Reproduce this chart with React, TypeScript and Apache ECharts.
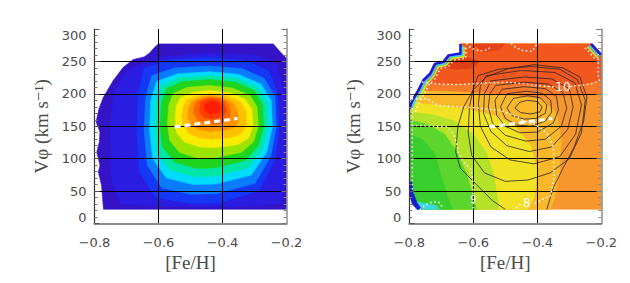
import React, { useEffect, useRef } from "react";
import * as echarts from "echarts";

// ---------- axes ----------
const FEH_MIN = -0.8;
const FEH_MAX = -0.2;
const FEH_STEP = 0.2;
const V_MIN = 0;
const V_MAX = 300;
const V_STEP = 50;

// ---------- left panel: filled density contours, outer -> inner, points [Fe/H, Vphi] ----------
const DENS_L0 = [[-0.6,277],[-0.241,277],[-0.222,266],[-0.2,255],[-0.2,22],[-0.772,22],[-0.778,59],[-0.788,79],[-0.783,90],[-0.793,110],[-0.785,126],[-0.783,141],[-0.795,157],[-0.786,177],[-0.772,195],[-0.741,221],[-0.71,241],[-0.679,253],[-0.645,257],[-0.628,263],[-0.612,272]];
const DENS_L1 = [[-0.7,236],[-0.6,256],[-0.45,263],[-0.3,260],[-0.23,246],[-0.206,200],[-0.206,60],[-0.216,30],[-0.35,26],[-0.55,26],[-0.72,30],[-0.748,70],[-0.752,150],[-0.738,205]];
const DENS_L2 = [[-0.645,240],[-0.56,253],[-0.44,256],[-0.33,251],[-0.255,236],[-0.228,200],[-0.222,150],[-0.235,100],[-0.285,50],[-0.41,32],[-0.5,31],[-0.61,40],[-0.66,80],[-0.668,140],[-0.664,200]];
const DENS_L3 = [[-0.622,228],[-0.55,240],[-0.44,243],[-0.34,239],[-0.27,224],[-0.236,195],[-0.232,150],[-0.248,105],[-0.298,62],[-0.42,46],[-0.5,45],[-0.59,55],[-0.635,90],[-0.645,145],[-0.64,195]];
const DENS_L4 = [[-0.606,219],[-0.54,231],[-0.44,234],[-0.35,230],[-0.28,215],[-0.248,190],[-0.244,150],[-0.262,110],[-0.31,75],[-0.42,61],[-0.49,60],[-0.575,70],[-0.618,100],[-0.628,145],[-0.624,190]];
const DENS_L5 = [[-0.59,213],[-0.535,225],[-0.44,228],[-0.355,224],[-0.29,210],[-0.26,186],[-0.257,150],[-0.275,115],[-0.32,86],[-0.42,73],[-0.485,72],[-0.565,82],[-0.603,108],[-0.612,148],[-0.608,188]];
const DENS_L6 = [[-0.575,208],[-0.525,219],[-0.44,222],[-0.36,218],[-0.3,205],[-0.275,183],[-0.272,150],[-0.288,120],[-0.33,97],[-0.425,86],[-0.48,85],[-0.55,95],[-0.587,118],[-0.595,150],[-0.59,186]];
const DENS_L7 = [[-0.555,200],[-0.51,210],[-0.44,213],[-0.37,209],[-0.315,198],[-0.292,180],[-0.288,150],[-0.303,126],[-0.34,110],[-0.425,101],[-0.475,100],[-0.535,110],[-0.565,128],[-0.572,152],[-0.568,182]];
const DENS_L8 = [[-0.532,194],[-0.495,202],[-0.44,205],[-0.38,202],[-0.33,192],[-0.308,176],[-0.305,150],[-0.318,132],[-0.35,122],[-0.425,117],[-0.47,118],[-0.52,126],[-0.543,140],[-0.548,158],[-0.545,180]];
const DENS_L9 = [[-0.512,190],[-0.48,197],[-0.44,200],[-0.39,197],[-0.345,188],[-0.327,173],[-0.325,152],[-0.338,140],[-0.37,133],[-0.43,130],[-0.47,132],[-0.505,139],[-0.522,150],[-0.527,165],[-0.522,180]];
const DENS_L10 = [[-0.495,188],[-0.47,194],[-0.44,197],[-0.4,194],[-0.365,185],[-0.352,172],[-0.35,156],[-0.362,148],[-0.39,144],[-0.44,142],[-0.475,145],[-0.5,153],[-0.508,166],[-0.505,180]];
const DENS_L11 = [[-0.48,188],[-0.455,193],[-0.43,195],[-0.4,192],[-0.38,183],[-0.375,168],[-0.385,158],[-0.415,153],[-0.45,154],[-0.478,160],[-0.49,170],[-0.489,180]];
const DENS_L12 = [[-0.468,187],[-0.445,192],[-0.415,191],[-0.395,184],[-0.388,174],[-0.398,165],[-0.425,161],[-0.455,163],[-0.472,172]];
const DENS_L13 = [[-0.455,184],[-0.435,189],[-0.412,186],[-0.405,177],[-0.415,170],[-0.44,169],[-0.458,176]];
const DENS_LEVELS = [DENS_L0, DENS_L1, DENS_L2, DENS_L3, DENS_L4, DENS_L5, DENS_L6, DENS_L7, DENS_L8, DENS_L9, DENS_L10, DENS_L11, DENS_L12, DENS_L13];
const DENS_COLORS = ["#3414c6", "#2a1ce0", "#1438f5", "#0a7cff", "#00dcff", "#00e6a6", "#1ed41e", "#9ce400", "#f8ec00", "#ffc000", "#ff9200", "#ff6600", "#ff3c00", "#ff1c00"];

// mean trend (white dashed)
const TREND = [[-0.55,149],[-0.45,155.5],[-0.353,162]];

// ---------- right panel: colour field regions ----------
const AGE_BASE = [[-0.64,277],[-0.232,277],[-0.2,260],[-0.2,22],[-0.775,22],[-0.79,30],[-0.8,46],[-0.8,177],[-0.79,190],[-0.772,205],[-0.756,221],[-0.735,231],[-0.72,246],[-0.694,249],[-0.678,259],[-0.64,262]];
const AGE_TOP = [[-0.64,277],[-0.232,277],[-0.2,260],[-0.2,200],[-0.3,197],[-0.45,197],[-0.6,200],[-0.772,205],[-0.756,221],[-0.735,231],[-0.72,246],[-0.694,249],[-0.678,259],[-0.64,262]];
const AGE_RED = [[-0.64,277],[-0.232,277],[-0.2,260],[-0.2,222],[-0.26,214],[-0.35,212],[-0.45,215],[-0.55,219],[-0.65,216],[-0.72,216],[-0.756,221],[-0.735,231],[-0.72,246],[-0.694,249],[-0.678,259],[-0.64,262]];
const AGE_SPOT1 = [[-0.7,243],[-0.66,238],[-0.6,240],[-0.58,250],[-0.62,257],[-0.68,252]];
const AGE_SPOT2 = [[-0.6,277],[-0.5,277],[-0.52,268],[-0.57,265]];
const AGE_YO = [[-0.775,205],[-0.65,203],[-0.55,200],[-0.45,196],[-0.38,190],[-0.34,170],[-0.325,130],[-0.33,80],[-0.345,40],[-0.36,22],[-0.775,22],[-0.79,30],[-0.8,46],[-0.8,177],[-0.79,190]];
const AGE_Y = [[-0.79,186],[-0.72,183],[-0.62,176],[-0.53,166],[-0.47,150],[-0.42,120],[-0.4,80],[-0.41,40],[-0.43,22],[-0.775,22],[-0.79,30],[-0.8,46],[-0.8,177]];
const AGE_YG = [[-0.8,172],[-0.73,168],[-0.66,158],[-0.6,138],[-0.56,110],[-0.535,75],[-0.525,40],[-0.52,22],[-0.775,22],[-0.79,30],[-0.8,46]];
const AGE_G = [[-0.8,160],[-0.74,152],[-0.69,138],[-0.65,110],[-0.62,75],[-0.6,40],[-0.59,22],[-0.775,22],[-0.79,30],[-0.8,46]];
const AGE_G2 = [[-0.8,138],[-0.76,130],[-0.72,108],[-0.7,72],[-0.68,40],[-0.665,22],[-0.775,22],[-0.79,30],[-0.8,46]];
const AGE_CYAN = [[-0.78,22],[-0.705,22],[-0.72,28],[-0.75,31],[-0.775,33]];
const AGE_REGIONS = [AGE_BASE, AGE_TOP, AGE_RED, AGE_SPOT1, AGE_SPOT2, AGE_YO, AGE_Y, AGE_YG, AGE_G, AGE_G2, AGE_CYAN];
const AGE_COLORS = ["#f6962c", "#f67a2a", "#f2581e", "#e23e16", "#e44218", "#f8b82a", "#f2e224", "#b4e22a", "#5cd62c", "#38ce2e", "#3ed6e0"];

// data-region edges
const STAIR_EDGE = [[-0.64,277],[-0.64,262],[-0.678,259],[-0.694,249],[-0.72,246],[-0.735,231],[-0.756,221],[-0.772,205],[-0.79,190],[-0.8,177]];
const RIGHT_EDGE = [[-0.232,277],[-0.2,260]];
const RIGHT_SIDE = [[-0.2,260],[-0.2,225]];
const LEFT_SIDE = [[-0.8,177],[-0.8,50]];
const CORNER_BLUE = [[-0.8,64],[-0.8,46],[-0.79,30],[-0.775,22],[-0.762,22],[-0.776,32],[-0.788,48],[-0.792,64]];

// black density iso-lines
const ISO_1 = [[-0.455,187],[-0.43,190],[-0.4,188],[-0.385,180],[-0.392,172],[-0.42,169],[-0.452,171],[-0.47,178]];
const ISO_2 = [[-0.475,193],[-0.43,197],[-0.39,194],[-0.37,183],[-0.375,170],[-0.405,162],[-0.44,161],[-0.478,166],[-0.495,178]];
const ISO_3 = [[-0.495,200],[-0.435,204],[-0.385,201],[-0.358,190],[-0.355,172],[-0.375,158],[-0.42,150],[-0.465,152],[-0.5,162],[-0.515,180]];
const ISO_4 = [[-0.51,207],[-0.44,211],[-0.375,208],[-0.34,196],[-0.334,175],[-0.35,155],[-0.4,141],[-0.455,140],[-0.5,150],[-0.527,167],[-0.532,190]];
const ISO_5 = [[-0.53,213],[-0.44,218],[-0.365,215],[-0.32,202],[-0.308,178],[-0.325,150],[-0.375,130],[-0.435,127],[-0.5,136],[-0.54,155],[-0.553,180],[-0.548,200]];
const ISO_6 = [[-0.545,220],[-0.44,226],[-0.355,223],[-0.3,208],[-0.288,180],[-0.305,145],[-0.355,118],[-0.425,111],[-0.495,120],[-0.545,142],[-0.568,170],[-0.565,200]];
const ISO_7 = [[-0.56,228],[-0.45,236],[-0.345,233],[-0.283,217],[-0.262,183],[-0.28,138],[-0.33,103],[-0.41,92],[-0.485,98],[-0.545,118],[-0.578,150],[-0.584,185],[-0.578,212]];
const ISO_8 = [[-0.585,228],[-0.52,238],[-0.42,242],[-0.33,238],[-0.275,222],[-0.25,190],[-0.262,140],[-0.3,100],[-0.36,78],[-0.43,67],[-0.5,65],[-0.565,78],[-0.605,105],[-0.616,140],[-0.612,180],[-0.6,208]];
const ISO_9 = [[-0.5,22],[-0.54,35],[-0.59,60],[-0.64,85],[-0.655,110],[-0.648,150],[-0.63,180],[-0.6,206],[-0.56,226],[-0.49,239],[-0.41,245],[-0.32,240],[-0.267,226],[-0.245,195],[-0.255,158],[-0.285,118],[-0.32,85],[-0.35,55],[-0.37,22]];
const ISO_CLOSED = [ISO_1, ISO_2, ISO_3, ISO_4, ISO_5, ISO_6, ISO_7, ISO_8];

// white dotted contours of the colour field
const DOT_10A = [[-0.758,218],[-0.714,215.5],[-0.65,214],[-0.6,215.5],[-0.55,217],[-0.496,218],[-0.45,216],[-0.402,213],[-0.345,210.5]];
const DOT_10B = [[-0.295,211.5],[-0.267,213],[-0.225,216],[-0.2,223]];
const DOT_8 = [[-0.79,192.6],[-0.746,192.6],[-0.709,182],[-0.65,180],[-0.6,178.6],[-0.517,174.5],[-0.475,167],[-0.444,159],[-0.402,151.4],[-0.381,143.7],[-0.369,138.5],[-0.355,123],[-0.35,118],[-0.348,97],[-0.348,72],[-0.358,43],[-0.41,31]];
const DOT_8B = [[-0.455,29],[-0.47,22]];
const DOT_9 = [[-0.79,151.4],[-0.725,150],[-0.683,149],[-0.662,138.5],[-0.65,120],[-0.647,107.7],[-0.626,92.3],[-0.605,82],[-0.6,56],[-0.6,43]];
const DOT_9B = [[-0.6,31],[-0.6,23]];
const DOT_LOW = [[-0.765,22],[-0.751,28],[-0.73,33],[-0.709,33.5],[-0.7,28],[-0.695,22]];
const DOT_TOP_A = [[-0.62,277],[-0.605,270],[-0.579,266],[-0.553,268.5],[-0.543,275]];
const DOT_TOP_B = [[-0.48,277],[-0.475,274],[-0.447,267],[-0.416,265.6],[-0.405,274],[-0.4,277]];
const DOT_LINES = [DOT_10A, DOT_10B, DOT_8, DOT_8B, DOT_9, DOT_9B, DOT_LOW, DOT_TOP_A, DOT_TOP_B];

// contour labels
const LABEL_TEXT = ["10", "8", "9"];
const LABEL_AT = [[-0.32, 210.5], [-0.433, 31], [-0.6, 37]];

// ---------- rendering helpers ----------
type Shape = {
  pts?: number[][];
  fill?: string;
  stroke?: string;
  width?: number;
  dash?: number[];
  cap?: string;
  closed?: boolean;
  dx?: number;
  dy?: number;
  text?: string;
  at?: number[];
  size?: number;
};

const DOTS = { stroke: "#ffffff", width: 1.7, dash: [0.01, 4.2], cap: "round" };

function renderShapes(shapes: Shape[]) {
  return (params: any, api: any) => {
    const s = shapes[params.dataIndex];
    if (s.text) {
      const c = api.coord(s.at);
      return {
        type: "text",
        x: c[0],
        y: c[1],
        style: {
          text: s.text,
          fill: "#f4f4f4",
          fontSize: s.size || 12,
          fontFamily: "DejaVu Sans",
          align: "center",
          verticalAlign: "middle",
        },
      };
    }
    const points = (s.pts || []).map((p) => api.coord(p));
    if (s.fill) {
      return {
        type: "polygon",
        shape: { points },
        style: { fill: s.fill, stroke: s.fill, lineWidth: 0.6 },
      };
    }
    return {
      type: s.closed ? "polygon" : "polyline",
      x: s.dx || 0,
      y: s.dy || 0,
      shape: { points },
      style: {
        fill: "none",
        stroke: s.stroke,
        lineWidth: s.width || 1,
        lineDash: s.dash || null,
        lineCap: s.cap || "butt",
        lineJoin: "round",
      },
    };
  };
}

function customSeries(shapes: Shape[], axisIdx: number, z: number) {
  return {
    type: "custom",
    coordinateSystem: "cartesian2d",
    xAxisIndex: axisIdx,
    yAxisIndex: axisIdx,
    silent: true,
    clip: true,
    z,
    renderItem: renderShapes(shapes),
    data: shapes.map((s) => {
      const p = s.text ? (s.at as number[]) : (s.pts as number[][])[0];
      return [p[0], p[1]];
    }),
  };
}

const fmtFeH = (v: number) => (v < 0 ? "\u2212" : "") + Math.abs(v).toFixed(1);
const LABEL_FONT = { color: "#4a4a4a", fontFamily: "DejaVu Sans", fontSize: 13 };
const TITLE_FONT = { color: "#4a4a4a", fontFamily: "Liberation Serif, DejaVu Serif, serif", fontSize: 19 };

function xAxes(gridIndex: number) {
  return [
    {
      type: "value",
      gridIndex,
      position: "bottom",
      min: FEH_MIN,
      max: FEH_MAX,
      interval: FEH_STEP,
      z: 5,
      name: "[Fe/H]",
      nameLocation: "middle",
      nameGap: 29,
      nameTextStyle: TITLE_FONT,
      axisLine: { show: true, lineStyle: { color: "#8c8c8c", width: 2 } },
      axisTick: { show: false },
      axisLabel: { ...LABEL_FONT, margin: 12, formatter: fmtFeH },
      splitLine: { show: true, showMinLine: false, showMaxLine: false, lineStyle: { color: "#000", width: 1 } },
    },
    {
      type: "value",
      gridIndex,
      position: "top",
      min: FEH_MIN,
      max: FEH_MAX,
      interval: FEH_STEP,
      z: 5,
      axisLine: { show: true, lineStyle: { color: "#8c8c8c", width: 1.5 } },
      axisTick: { show: false },
      axisLabel: { show: false },
      splitLine: { show: false },
    },
  ];
}

function yAxes(gridIndex: number, nameGap: number) {
  return [
    {
      type: "value",
      gridIndex,
      position: "left",
      min: V_MIN,
      max: V_MAX,
      interval: V_STEP,
      z: 5,
      name: "V\u03c6 (km s\u207b\u00b9)",
      nameLocation: "middle",
      nameGap,
      nameRotate: 90,
      nameTextStyle: TITLE_FONT,
      axisLine: { show: true, lineStyle: { color: "#333", width: 1.2 } },
      axisTick: { show: true, inside: true, length: 5, lineStyle: { color: "#555" } },
      minorTick: { show: true, splitNumber: 5, length: 3, lineStyle: { color: "#777" } },
      axisLabel: {
        ...LABEL_FONT,
        margin: 8,
        verticalAlignMinLabel: "bottom",
        verticalAlignMaxLabel: "top",
      },
      splitLine: { show: true, showMinLine: false, showMaxLine: false, lineStyle: { color: "#000", width: 1 } },
    },
    {
      type: "value",
      gridIndex,
      position: "right",
      min: V_MIN,
      max: V_MAX,
      interval: V_STEP,
      z: 5,
      axisLine: { show: true, lineStyle: { color: "#8c8c8c", width: 1.5 } },
      axisTick: { show: true, inside: true, length: 5, lineStyle: { color: "#777" } },
      minorTick: { show: true, splitNumber: 5, length: 3, lineStyle: { color: "#888" } },
      axisLabel: { show: false },
      splitLine: { show: false },
    },
  ];
}

function buildOption() {
  const leftFills: Shape[] = DENS_LEVELS.map((pts, i) => ({ pts, fill: DENS_COLORS[i] }));
  const trend: Shape = { pts: TREND, stroke: "#ffffff", width: 3.2, dash: [6, 4] };

  const rightFills: Shape[] = AGE_REGIONS.map((pts, i) => ({ pts, fill: AGE_COLORS[i] }));
  const edges: Shape[] = [
    { pts: CORNER_BLUE, fill: "#1c1ad8" },
    { pts: STAIR_EDGE, stroke: "#1a18e0", width: 2.6 },
    { pts: STAIR_EDGE, stroke: "#2ad8f0", width: 1.6, dx: 2, dy: 1.6 },
    { pts: STAIR_EDGE, stroke: "#c8ec30", width: 1.6, dx: 3.5, dy: 3 },
    { pts: RIGHT_EDGE, stroke: "#1a18e0", width: 2.6 },
    { pts: RIGHT_EDGE, stroke: "#2ad8f0", width: 1.6, dx: -2, dy: 1.6 },
    { pts: RIGHT_EDGE, stroke: "#c8ec30", width: 1.6, dx: -3.5, dy: 3 },
    { pts: STAIR_EDGE, ...DOTS, dx: 5.5, dy: 4.5 },
    { pts: RIGHT_EDGE, ...DOTS, dx: -5.5, dy: 4.5 },
    { pts: RIGHT_SIDE, ...DOTS, dx: -3 },
    { pts: LEFT_SIDE, ...DOTS, dx: 3 },
  ];
  const isoLines: Shape[] = [
    ...ISO_CLOSED.map((pts) => ({ pts, stroke: "#262626", width: 0.8, closed: true })),
    { pts: ISO_9, stroke: "#262626", width: 0.8 },
  ];
  const dotted: Shape[] = DOT_LINES.map((pts) => ({ pts, ...DOTS }));
  const labels: Shape[] = LABEL_TEXT.map((text, i) => ({ text, at: LABEL_AT[i], size: i === 2 ? 10 : 12 }));

  return {
    animation: false,
    tooltip: { show: false },
    grid: [
      { left: 94.5, top: 29, width: 192, height: 194.5 },
      { left: 409.3, top: 29, width: 192, height: 194.5 },
    ],
    xAxis: [...xAxes(0), ...xAxes(1)],
    yAxis: [...yAxes(0, 44), ...yAxes(1, 46)],
    series: [
      customSeries(leftFills, 0, 1),
      customSeries([trend], 0, 8),
      customSeries([...rightFills, ...edges], 2, 1),
      customSeries([...isoLines, ...dotted, ...labels, trend], 2, 8),
    ],
  };
}

export default function App() {
  const ref = useRef<HTMLDivElement | null>(null);
  useEffect(() => {
    if (!ref.current) return;
    const chart = echarts.init(ref.current, undefined, { renderer: "svg" });
    chart.setOption(buildOption() as any);
    return () => chart.dispose();
  }, []);
  return (
    <div style={{ position: "fixed", left: 0, top: 0, width: 630, height: 283, background: "#fff" }}>
      <div ref={ref} style={{ width: 630, height: 283 }} />
    </div>
  );
}
